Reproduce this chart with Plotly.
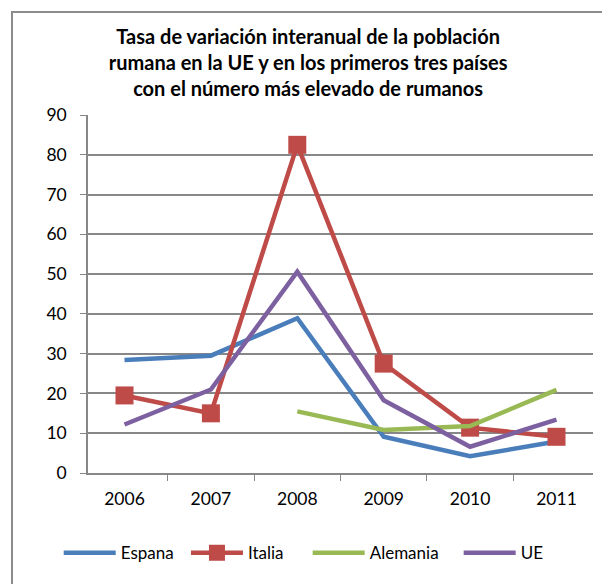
import plotly.graph_objects as go

# Data
years = ["2006", "2007", "2008", "2009", "2010", "2011"]
espana = [28.4, 29.5, 38.9, 9.1, 4.2, 7.9]
italia = [19.5, 15.0, 82.5, 27.5, 11.4, 9.1]
alemania = [None, None, 15.5, 10.8, 11.8, 20.9]
ue = [12.2, 21.0, 50.6, 18.3, 6.6, 13.4]

FONT = "Lato"
GRID = "#878787"

fig = go.Figure()

# name, values, colour, markers, legend id, legend x (paper)
series = [
    ("Espana", espana, "#4A7EBB", False, "legend", -0.058),
    ("Italia", italia, "#BE4B48", True, "legend2", 0.194),
    ("Alemania", alemania, "#98B954", False, "legend3", 0.435),
    ("UE", ue, "#7D60A0", False, "legend4", 0.734),
]

for name, vals, colour, markers, leg, _ in series:
    fig.add_trace(
        go.Scatter(
            x=years,
            y=vals,
            name=name,
            legend=leg,
            mode="lines+markers" if markers else "lines",
            line=dict(color=colour, width=4.5),
            marker=dict(symbol="square", size=18, color=colour),
            connectgaps=False,
        )
    )

legends = {}
for _, _, _, _, leg, lx in series:
    legends[leg] = dict(
        orientation="h",
        x=lx,
        xanchor="left",
        y=-0.224,
        yanchor="middle",
        font=dict(family=FONT, size=17),
        itemwidth=52,
        bgcolor="rgba(0,0,0,0)",
    )

fig.update_layout(
    width=610,
    height=584,
    margin=dict(l=80, r=25, t=107, b=119),
    paper_bgcolor="white",
    plot_bgcolor="white",
    font=dict(family=FONT, size=17, color="black"),
    title=dict(
        text="Tasa de variación interanual de la población<br>"
        "rumana en la UE y en los primeros tres países<br>"
        "con el número más elevado de rumanos",
        x=0.492,
        xanchor="center",
        y=0.938,
        yanchor="top",
        font=dict(family=FONT, size=20, color="black", weight="bold"),
    ),
    showlegend=True,
    shapes=[
        dict(
            type="rect",
            xref="paper",
            yref="paper",
            x0=-0.1505,
            y0=-0.36,
            x1=1.06,
            y1=1.2877,
            line=dict(color="#8c8c8c", width=2),
            fillcolor="rgba(0,0,0,0)",
            layer="below",
        )
    ],
    **legends,
)

fig.update_xaxes(
    type="category",
    showline=True,
    linecolor=GRID,
    linewidth=1.5,
    ticks="outside",
    tickson="boundaries",
    ticklen=6,
    tickcolor=GRID,
    showgrid=False,
    ticklabelstandoff=9,
    tickfont=dict(family=FONT, size=17.5),
)

fig.update_yaxes(
    range=[0, 90],
    dtick=10,
    showline=True,
    linecolor=GRID,
    linewidth=1.5,
    ticks="outside",
    ticklen=6,
    tickcolor=GRID,
    showgrid=True,
    gridcolor=GRID,
    gridwidth=1.5,
    zeroline=False,
    ticklabelstandoff=10,
    tickfont=dict(family=FONT, size=17.5),
)

fig.write_html("out.html")
